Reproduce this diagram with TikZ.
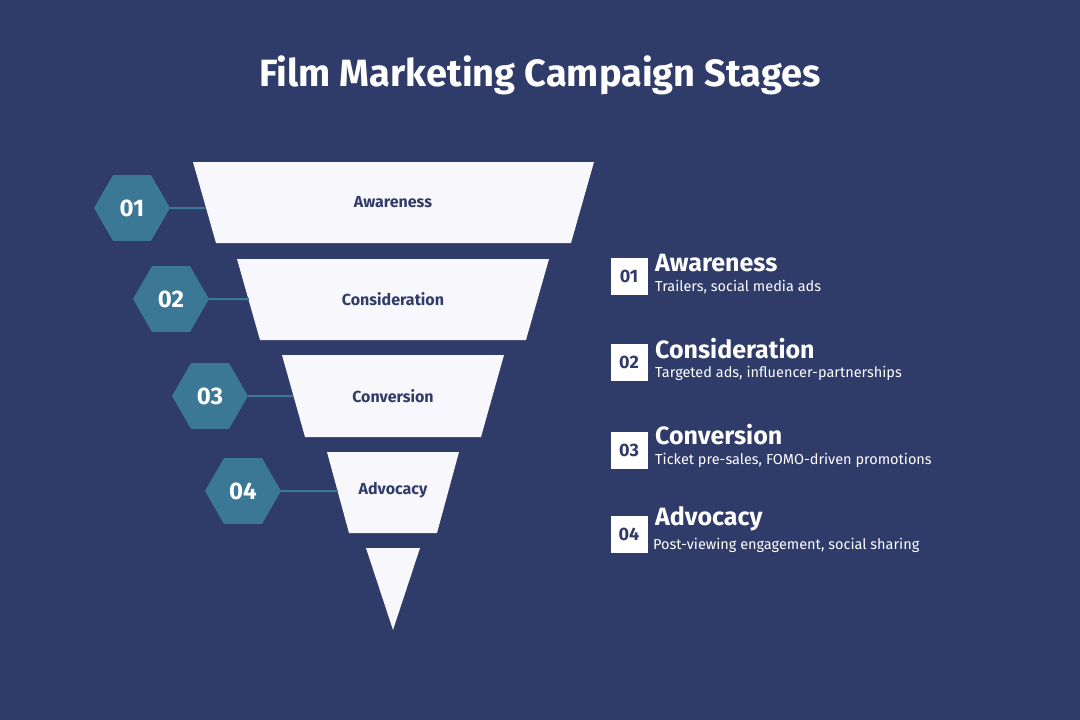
\documentclass[tikz,border=0pt]{standalone}
\usepackage{fontspec}
\setmainfont{Fira Sans}
\usetikzlibrary{shapes.geometric}
\definecolor{bg}{HTML}{2F3B68}
\definecolor{teal}{HTML}{3A7896}
\definecolor{panel}{HTML}{F8F8FC}
\tikzset{
  seg/.style={fill=panel,draw=none},
  seglabel/.style={text=bg,font=\fontsize{16}{18}\selectfont\bfseries},
  hexa/.style={regular polygon,regular polygon sides=6,minimum size=76pt,fill=teal,text=white,inner sep=0pt,font=\fontsize{24}{26}\selectfont\bfseries},
  link/.style={teal,line width=2pt},
  numbox/.style={fill=white,text=bg,minimum size=37pt,inner sep=0pt,font=\fontsize{18}{20}\selectfont\bfseries},
  ttl/.style={anchor=west,text=white,font=\fontsize{25}{27}\selectfont\bfseries,inner sep=0pt},
  sub/.style={anchor=west,text=white,font=\fontsize{14.5}{16}\selectfont,inner sep=0pt}
}
\begin{document}
\begin{tikzpicture}[x=1pt,y=-1pt]
\fill[bg] (0,0) rectangle (1080,720);
\useasboundingbox (0,0) rectangle (1080,720);
\node[text=white,font=\fontsize{38}{40}\selectfont\bfseries] (title) at (540,75) {Film Marketing Campaign Stages};
% funnel
\fill[seg] (193,162) -- (594,162) -- (571,243) -- (216,243) -- cycle;
\fill[seg] (237,259) -- (549,259) -- (526,340) -- (260,340) -- cycle;
\fill[seg] (282,355) -- (504,355) -- (481,437) -- (305,437) -- cycle;
\fill[seg] (327,452) -- (459,452) -- (437,533) -- (349,533) -- cycle;
\fill[seg] (366,548) -- (420,548) -- (393,630) -- cycle;
\node[seglabel] (s1) at (393,202) {Awareness};
\node[seglabel] (s2) at (393,299) {Consideration};
\node[seglabel] (s3) at (393,396) {Conversion};
\node[seglabel] (s4) at (393,490) {Advocacy};
\coordinate (e1) at (205,208);
\coordinate (e2) at (249,299);
\coordinate (e3) at (293,396);
\coordinate (e4) at (338,491);
\node[hexa] (h1) at (132,208) {01};
\node[hexa] (h2) at (171,299) {02};
\node[hexa] (h3) at (210,396) {03};
\node[hexa] (h4) at (243,491) {04};
\draw[link] (h1.east) -- (e1);
\draw[link] (h2.east) -- (e2);
\draw[link] (h3.east) -- (e3);
\draw[link] (h4.east) -- (e4);
% legend
\node[numbox] (b1) at (629,276) {01};
\node[numbox] (b2) at (629,362) {02};
\node[numbox] (b3) at (629,450) {03};
\node[numbox] (b4) at (629,534) {04};
\node[ttl] (t1) at (655,263) {Awareness};
\node[sub] (u1) at (655,287) {Trailers, social media ads};
\node[ttl] (t2) at (655,349) {Consideration};
\node[sub] (u2) at (655,373) {Targeted ads, influencer-partnerships};
\node[ttl] (t3) at (655,435) {Conversion};
\node[sub] (u3) at (655,460) {Ticket pre-sales, FOMO-driven promotions};
\node[ttl] (t4) at (655,519) {Advocacy};
\node[sub] (u4) at (653,545) {Post-viewing engagement, social sharing};
\end{tikzpicture}
\end{document}
